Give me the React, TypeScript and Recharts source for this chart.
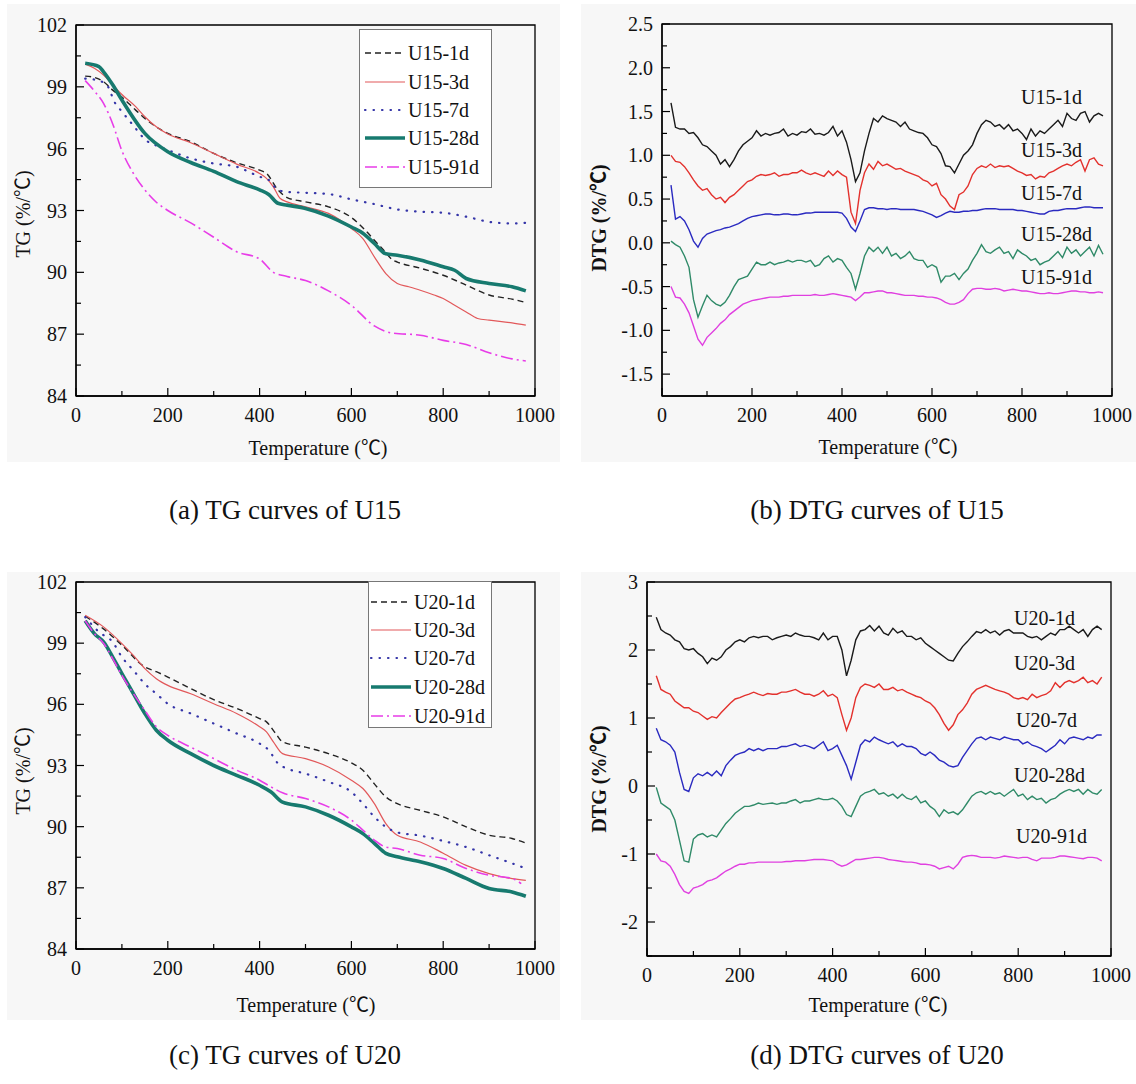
import React from 'react';
import { LineChart, Line, XAxis, YAxis, ReferenceArea } from 'recharts';

const SERIF = "'Liberation Serif','Times New Roman',Times,'Noto Sans CJK SC',serif";

// ---------- shared x categories ----------
const X_TICKS = [0, 100, 200, 300, 400, 500, 600, 700, 800, 900, 1000];
const DTG_T = [20, 30, 40, 50, 60, 70, 80, 90, 100, 110, 120, 130, 140, 150, 160, 170, 180, 190, 200, 210, 220, 230, 240, 250, 260, 270, 280, 290, 300, 310, 320, 330, 340, 350, 360, 370, 380, 390, 400, 410, 420, 430, 440, 450, 460, 470, 480, 490, 500, 510, 520, 530, 540, 550, 560, 570, 580, 590, 600, 610, 620, 630, 640, 650, 660, 670, 680, 690, 700, 710, 720, 730, 740, 750, 760, 770, 780, 790, 800, 810, 820, 830, 840, 850, 860, 870, 880, 890, 900, 910, 920, 930, 940, 950, 960, 970, 980];

// ---------- (a) TG U15 ----------
const tgA1dT = [20, 40, 60, 80, 100, 130, 150, 180, 200, 250, 300, 350, 400, 415, 440, 460, 500, 550, 600, 630, 650, 670, 690, 700, 750, 800, 850, 900, 950, 980];
const tgA1dV = [99.52, 99.46, 99.25, 98.84, 98.5, 97.87, 97.47, 96.98, 96.74, 96.34, 95.77, 95.32, 94.96, 94.8, 94.0, 93.63, 93.42, 93.18, 92.66, 92.05, 91.56, 91.08, 90.6, 90.5, 90.2, 89.86, 89.38, 88.9, 88.7, 88.54];
const tgA3dT = [20, 40, 60, 80, 100, 130, 150, 175, 200, 250, 300, 350, 400, 415, 430, 445, 460, 500, 550, 600, 625, 650, 675, 700, 725, 750, 780, 800, 825, 850, 875, 900, 950, 980];
const tgA3dV = [100.1, 99.9, 99.57, 99.1, 98.63, 98.04, 97.55, 97.06, 96.71, 96.29, 95.77, 95.25, 94.8, 94.56, 94.15, 93.58, 93.42, 93.18, 92.86, 92.13, 91.64, 90.75, 89.94, 89.46, 89.3, 89.13, 88.9, 88.73, 88.4, 88.08, 87.76, 87.68, 87.55, 87.44];
const tgA7dT = [20, 50, 70, 83, 100, 122, 153, 181, 200, 250, 300, 350, 400, 420, 440, 460, 500, 550, 600, 650, 700, 750, 800, 850, 900, 950, 980];
const tgA7dV = [99.4, 99.3, 99.0, 98.3, 97.8, 97.2, 96.4, 96.1, 95.93, 95.53, 95.28, 95.12, 94.64, 94.48, 94.0, 93.9, 93.86, 93.8, 93.54, 93.31, 93.05, 92.94, 92.89, 92.7, 92.45, 92.37, 92.4];
const tgA28dT = [20, 50, 60, 80, 100, 150, 200, 250, 300, 350, 400, 420, 440, 460, 500, 550, 600, 625, 650, 675, 700, 750, 800, 825, 850, 900, 950, 980];
const tgA28dV = [100.14, 99.98, 99.73, 99.1, 98.36, 96.74, 95.85, 95.33, 94.9, 94.4, 94.0, 93.78, 93.35, 93.26, 93.1, 92.73, 92.2, 91.9, 91.4, 90.9, 90.83, 90.6, 90.27, 90.1, 89.7, 89.46, 89.3, 89.1];
const tgA91dT = [20, 40, 60, 80, 100, 125, 150, 175, 200, 250, 300, 350, 400, 430, 460, 500, 550, 600, 650, 690, 750, 800, 850, 900, 950, 980];
const tgA91dV = [99.3, 98.8, 98.2, 97.2, 95.9, 94.8, 94.0, 93.4, 93.0, 92.4, 91.7, 91.0, 90.65, 90.0, 89.8, 89.6, 89.1, 88.4, 87.4, 87.05, 86.95, 86.7, 86.5, 86.1, 85.8, 85.7];

// ---------- (c) TG U20 ----------
const tgC1dT = [20, 60, 100, 150, 175, 200, 250, 300, 350, 400, 415, 435, 450, 500, 550, 600, 625, 650, 675, 700, 750, 800, 850, 900, 950, 980];
const tgC1dV = [100.32, 99.7, 98.9, 97.83, 97.6, 97.34, 96.77, 96.23, 95.8, 95.3, 95.14, 94.57, 94.16, 93.9, 93.58, 93.13, 92.77, 92.1, 91.46, 91.13, 90.8, 90.48, 89.99, 89.58, 89.42, 89.2];
const tgC3dT = [20, 60, 100, 125, 150, 175, 200, 250, 300, 350, 400, 415, 430, 450, 500, 550, 600, 625, 650, 675, 700, 750, 800, 850, 900, 950, 980];
const tgC3dV = [100.37, 99.8, 98.98, 98.4, 97.75, 97.26, 96.93, 96.52, 96.03, 95.55, 94.9, 94.65, 94.16, 93.58, 93.34, 92.93, 92.28, 91.87, 91.13, 90.15, 89.58, 89.25, 88.7, 88.1, 87.7, 87.45, 87.37];
const tgC7dT = [20, 50, 80, 100, 125, 150, 175, 200, 250, 300, 350, 400, 420, 440, 460, 500, 550, 600, 625, 650, 675, 700, 750, 800, 850, 900, 950, 980];
const tgC7dV = [100.28, 99.55, 99.05, 98.32, 97.67, 97.0, 96.52, 96.03, 95.55, 95.06, 94.57, 94.08, 93.75, 93.1, 92.85, 92.6, 92.2, 91.7, 91.13, 90.48, 89.99, 89.72, 89.56, 89.3, 89.0, 88.6, 88.2, 87.95];
const tgC28dT = [20, 40, 60, 80, 100, 125, 150, 175, 200, 250, 300, 350, 400, 425, 450, 500, 550, 600, 625, 650, 675, 700, 750, 800, 850, 900, 950, 980];
const tgC28dV = [100.1, 99.47, 99.06, 98.32, 97.51, 96.53, 95.55, 94.73, 94.24, 93.58, 93.0, 92.52, 92.03, 91.7, 91.2, 90.97, 90.56, 89.99, 89.66, 89.18, 88.69, 88.52, 88.28, 87.95, 87.46, 86.97, 86.8, 86.59];
const tgC91dT = [20, 40, 60, 80, 100, 125, 150, 175, 200, 250, 300, 350, 400, 425, 450, 500, 550, 600, 625, 650, 675, 700, 750, 800, 850, 900, 950, 970];
const tgC91dV = [100.1, 99.47, 99.0, 98.24, 97.42, 96.53, 95.7, 94.9, 94.48, 93.9, 93.34, 92.77, 92.28, 91.95, 91.66, 91.38, 90.97, 90.32, 89.83, 89.34, 89.0, 88.93, 88.6, 88.44, 87.95, 87.62, 87.46, 87.21];

// ---------- (b) DTG U15 ----------
const dtgB1d = [1.6, 1.32, 1.3, 1.3, 1.25, 1.26, 1.2, 1.12, 1.1, 1.05, 1.0, 0.9, 0.95, 0.87, 0.95, 1.05, 1.12, 1.16, 1.2, 1.28, 1.22, 1.25, 1.23, 1.25, 1.26, 1.3, 1.22, 1.25, 1.23, 1.27, 1.26, 1.3, 1.24, 1.25, 1.23, 1.26, 1.33, 1.22, 1.28, 1.15, 0.95, 0.7, 0.8, 1.05, 1.25, 1.42, 1.38, 1.45, 1.42, 1.4, 1.38, 1.33, 1.38, 1.3, 1.28, 1.26, 1.25, 1.2, 1.12, 1.1, 1.02, 0.88, 0.87, 0.8, 0.9, 1.0, 1.05, 1.12, 1.25, 1.35, 1.4, 1.38, 1.33, 1.35, 1.3, 1.35, 1.28, 1.3, 1.25, 1.18, 1.3, 1.22, 1.28, 1.25, 1.3, 1.35, 1.4, 1.33, 1.48, 1.42, 1.4, 1.48, 1.5, 1.38, 1.45, 1.48, 1.45];
const dtgB3d = [1.0, 0.93, 0.92, 0.87, 0.8, 0.72, 0.65, 0.6, 0.62, 0.55, 0.5, 0.52, 0.46, 0.52, 0.55, 0.6, 0.65, 0.7, 0.72, 0.76, 0.78, 0.77, 0.78, 0.8, 0.76, 0.78, 0.78, 0.8, 0.8, 0.83, 0.8, 0.78, 0.8, 0.78, 0.76, 0.82, 0.77, 0.82, 0.78, 0.75, 0.35, 0.22, 0.6, 0.8, 0.9, 0.84, 0.93, 0.88, 0.9, 0.87, 0.84, 0.85, 0.82, 0.8, 0.78, 0.76, 0.72, 0.7, 0.65, 0.68, 0.55, 0.5, 0.42, 0.38, 0.55, 0.58, 0.65, 0.78, 0.85, 0.88, 0.86, 0.9, 0.86, 0.88, 0.87, 0.88, 0.85, 0.82, 0.8, 0.77, 0.78, 0.73, 0.76, 0.75, 0.8, 0.82, 0.85, 0.88, 0.9, 0.88, 0.92, 0.95, 0.82, 0.95, 0.97, 0.9, 0.88];
const dtgB7d = [0.66, 0.27, 0.3, 0.25, 0.15, 0.02, -0.05, 0.05, 0.1, 0.12, 0.14, 0.15, 0.17, 0.18, 0.2, 0.22, 0.25, 0.28, 0.3, 0.31, 0.32, 0.33, 0.33, 0.32, 0.32, 0.33, 0.33, 0.32, 0.32, 0.33, 0.34, 0.34, 0.35, 0.35, 0.35, 0.35, 0.35, 0.35, 0.34, 0.28, 0.18, 0.13, 0.25, 0.38, 0.4, 0.4, 0.39, 0.39, 0.38, 0.39, 0.39, 0.38, 0.38, 0.38, 0.38, 0.37, 0.36, 0.34, 0.32, 0.29, 0.31, 0.34, 0.36, 0.35, 0.35, 0.36, 0.36, 0.37, 0.37, 0.38, 0.39, 0.39, 0.39, 0.38, 0.38, 0.38, 0.38, 0.37, 0.37, 0.36, 0.35, 0.34, 0.33, 0.33, 0.36, 0.37, 0.37, 0.38, 0.39, 0.39, 0.39, 0.4, 0.41, 0.41, 0.4, 0.4, 0.4];
const dtgB28d = [0.02, -0.02, -0.05, -0.15, -0.28, -0.65, -0.85, -0.72, -0.6, -0.66, -0.7, -0.72, -0.68, -0.6, -0.5, -0.42, -0.4, -0.38, -0.3, -0.22, -0.25, -0.25, -0.22, -0.25, -0.23, -0.22, -0.2, -0.22, -0.2, -0.2, -0.22, -0.2, -0.27, -0.25, -0.18, -0.15, -0.22, -0.18, -0.2, -0.28, -0.35, -0.53, -0.35, -0.15, -0.05, -0.1, -0.05, -0.12, -0.05, -0.15, -0.12, -0.18, -0.15, -0.1, -0.18, -0.2, -0.2, -0.28, -0.25, -0.28, -0.45, -0.38, -0.38, -0.35, -0.42, -0.35, -0.3, -0.2, -0.12, -0.02, -0.1, -0.12, -0.08, -0.05, -0.12, -0.1, -0.18, -0.08, -0.12, -0.15, -0.2, -0.18, -0.25, -0.22, -0.2, -0.15, -0.1, -0.17, -0.05, -0.12, -0.08, -0.15, -0.1, -0.05, -0.15, -0.03, -0.13];
const dtgB91d = [-0.5, -0.62, -0.63, -0.7, -0.8, -0.95, -1.1, -1.17, -1.08, -1.03, -0.98, -0.92, -0.88, -0.82, -0.78, -0.74, -0.7, -0.68, -0.66, -0.65, -0.64, -0.63, -0.62, -0.62, -0.62, -0.61, -0.61, -0.6, -0.6, -0.6, -0.6, -0.6, -0.59, -0.6, -0.6, -0.59, -0.58, -0.59, -0.6, -0.61, -0.62, -0.66, -0.62, -0.57, -0.57, -0.56, -0.55, -0.55, -0.57, -0.57, -0.58, -0.59, -0.6, -0.6, -0.6, -0.61, -0.61, -0.62, -0.62, -0.63, -0.65, -0.68, -0.7, -0.7, -0.68, -0.65, -0.58, -0.53, -0.52, -0.52, -0.53, -0.53, -0.52, -0.53, -0.55, -0.54, -0.53, -0.54, -0.55, -0.55, -0.56, -0.57, -0.58, -0.58, -0.57, -0.58, -0.58, -0.57, -0.56, -0.55, -0.55, -0.56, -0.56, -0.57, -0.57, -0.56, -0.57];

// ---------- (d) DTG U20 ----------
const dtgD1d = [2.48, 2.3, 2.25, 2.22, 2.15, 2.12, 2.02, 2.0, 2.02, 1.95, 1.9, 1.8, 1.88, 1.85, 1.9, 2.0, 2.05, 2.12, 2.15, 2.12, 2.18, 2.2, 2.18, 2.2, 2.2, 2.15, 2.18, 2.2, 2.22, 2.2, 2.25, 2.22, 2.2, 2.2, 2.18, 2.15, 2.25, 2.15, 2.2, 2.2, 2.0, 1.62, 1.85, 2.15, 2.28, 2.3, 2.36, 2.28, 2.35, 2.25, 2.22, 2.32, 2.25, 2.28, 2.2, 2.2, 2.15, 2.18, 2.1, 2.05, 2.0, 1.95, 1.9, 1.85, 1.84, 1.95, 2.05, 2.12, 2.2, 2.27, 2.25, 2.3, 2.25, 2.28, 2.22, 2.28, 2.3, 2.25, 2.25, 2.25, 2.2, 2.18, 2.2, 2.15, 2.2, 2.25, 2.22, 2.3, 2.3, 2.35, 2.3, 2.25, 2.3, 2.2, 2.3, 2.35, 2.3];
const dtgD3d = [1.62, 1.42, 1.38, 1.35, 1.25, 1.2, 1.15, 1.15, 1.1, 1.08, 1.03, 0.98, 1.02, 1.0, 1.08, 1.15, 1.22, 1.28, 1.3, 1.33, 1.35, 1.38, 1.35, 1.33, 1.36, 1.35, 1.35, 1.38, 1.38, 1.4, 1.42, 1.38, 1.35, 1.35, 1.32, 1.35, 1.4, 1.32, 1.35, 1.3, 1.05, 0.82, 1.0, 1.3, 1.45, 1.5, 1.48, 1.45, 1.5, 1.42, 1.42, 1.45, 1.4, 1.42, 1.38, 1.35, 1.32, 1.3, 1.25, 1.22, 1.15, 1.05, 0.92, 0.82, 0.9, 1.05, 1.12, 1.22, 1.35, 1.42, 1.45, 1.48, 1.45, 1.42, 1.4, 1.38, 1.35, 1.3, 1.28, 1.3, 1.27, 1.35, 1.3, 1.33, 1.35, 1.4, 1.52, 1.45, 1.52, 1.55, 1.52, 1.55, 1.6, 1.52, 1.55, 1.5, 1.6];
const dtgD7d = [0.85, 0.68, 0.65, 0.6, 0.5, 0.2, -0.05, -0.08, 0.12, 0.18, 0.15, 0.2, 0.15, 0.22, 0.15, 0.3, 0.38, 0.45, 0.48, 0.5, 0.55, 0.52, 0.55, 0.52, 0.55, 0.55, 0.55, 0.58, 0.58, 0.6, 0.62, 0.58, 0.6, 0.58, 0.55, 0.6, 0.65, 0.52, 0.55, 0.6, 0.45, 0.3, 0.1, 0.35, 0.6, 0.68, 0.65, 0.72, 0.68, 0.65, 0.62, 0.65, 0.58, 0.62, 0.58, 0.58, 0.55, 0.48, 0.45, 0.5, 0.45, 0.38, 0.35, 0.3, 0.28, 0.3, 0.42, 0.52, 0.62, 0.7, 0.72, 0.68, 0.72, 0.7, 0.68, 0.72, 0.7, 0.68, 0.68, 0.62, 0.65, 0.6, 0.58, 0.55, 0.5, 0.55, 0.6, 0.68, 0.62, 0.7, 0.72, 0.7, 0.68, 0.72, 0.7, 0.75, 0.75];
const dtgD28d = [-0.02, -0.25, -0.3, -0.35, -0.5, -0.8, -1.1, -1.12, -0.78, -0.72, -0.7, -0.75, -0.72, -0.75, -0.65, -0.55, -0.48, -0.4, -0.35, -0.3, -0.3, -0.28, -0.25, -0.27, -0.26, -0.25, -0.27, -0.25, -0.25, -0.22, -0.2, -0.25, -0.22, -0.22, -0.2, -0.18, -0.2, -0.2, -0.18, -0.22, -0.3, -0.42, -0.45, -0.3, -0.15, -0.1, -0.08, -0.05, -0.12, -0.1, -0.15, -0.12, -0.18, -0.12, -0.18, -0.2, -0.15, -0.25, -0.22, -0.3, -0.35, -0.45, -0.35, -0.4, -0.38, -0.42, -0.35, -0.25, -0.15, -0.1, -0.08, -0.12, -0.08, -0.12, -0.1, -0.15, -0.1, -0.05, -0.15, -0.12, -0.2, -0.15, -0.2, -0.18, -0.25, -0.2, -0.18, -0.12, -0.08, -0.05, -0.08, -0.05, -0.12, -0.05, -0.1, -0.12, -0.05];
const dtgD91d = [-1.0, -1.1, -1.12, -1.18, -1.3, -1.45, -1.55, -1.58, -1.5, -1.48, -1.45, -1.4, -1.38, -1.35, -1.3, -1.25, -1.22, -1.18, -1.15, -1.15, -1.13, -1.13, -1.12, -1.12, -1.12, -1.12, -1.12, -1.12, -1.11, -1.11, -1.1, -1.1, -1.1, -1.09, -1.08, -1.08, -1.08, -1.09, -1.1, -1.15, -1.18, -1.16, -1.12, -1.08, -1.08, -1.07, -1.06, -1.05, -1.05, -1.06, -1.08, -1.09, -1.1, -1.11, -1.12, -1.12, -1.13, -1.15, -1.15, -1.16, -1.18, -1.22, -1.2, -1.18, -1.22, -1.15, -1.05, -1.03, -1.02, -1.03, -1.05, -1.05, -1.05, -1.06, -1.05, -1.03, -1.04, -1.05, -1.06, -1.05, -1.05, -1.08, -1.1, -1.06, -1.06, -1.06, -1.05, -1.03, -1.03, -1.04, -1.05, -1.06, -1.07, -1.05, -1.05, -1.06, -1.1];

// ---------- y ticks ----------
const TG_TICKS = [84, 85.5, 87, 88.5, 90, 91.5, 93, 94.5, 96, 97.5, 99, 100.5, 102];
const DTG_B_TICKS = [-1.5, -1.25, -1, -0.75, -0.5, -0.25, 0, 0.25, 0.5, 0.75, 1, 1.25, 1.5, 1.75, 2, 2.25, 2.5];
const DTG_D_TICKS = [-2.5, -2, -1.5, -1, -0.5, 0, 0.5, 1, 1.5, 2, 2.5, 3];

type Series = { name: string; t: number[]; v: number[]; color: string; width: number; dash?: string; round?: boolean };

const pts = (t: number[], v: number[]) => t.map((x, i) => ({ t: x, v: v[i] }));

const XTick = (p: any) => {
  const { x, y, payload } = p;
  const v = payload.value as number;
  const major = v % 200 === 0;
  return (
    <g>
      <line x1={x} x2={x} y1={y} y2={y - (major ? 8 : 5)} stroke="#000" strokeWidth={1.2} />
      {major && (
        <text x={x} y={y + 26} textAnchor="middle" fontFamily={SERIF} fontSize={20} fill="#111">
          {v}
        </text>
      )}
    </g>
  );
};

const makeYTick = (base: number, step: number, fmt: (v: number) => string) => (p: any) => {
  const { x, y, payload } = p;
  const v = payload.value as number;
  const r = (v - base) / step;
  const major = Math.abs(r - Math.round(r)) < 1e-6;
  return (
    <g>
      <line x1={x} x2={x + (major ? 8 : 5)} y1={y} y2={y} stroke="#000" strokeWidth={1.2} />
      {major && (
        <text x={x - 9} y={y + 7} textAnchor="end" fontFamily={SERIF} fontSize={20} fill="#111">
          {fmt(v)}
        </text>
      )}
    </g>
  );
};

type PanelProps = {
  L: number; T: number; W: number; H: number;
  x0: number; x1: number; y0: number; y1: number;
  domain: [number, number]; yTicks: number[]; yTick: (p: any) => any;
  series: Series[]; smooth: boolean;
};

function Panel({ L, T, W, H, x0, x1, y0, y1, domain, yTicks, yTick, series, smooth }: PanelProps) {
  return (
    <div style={{ position: 'absolute', left: L, top: T }}>
      <LineChart width={W} height={H} margin={{ top: y0 - T, right: L + W - x1, bottom: 0, left: 0 }}>
        <XAxis
          dataKey="t" type="number" domain={[0, 1000]} ticks={X_TICKS} interval={0}
          height={T + H - y1} tickSize={0} tickMargin={0} tickLine={false}
          axisLine={{ stroke: '#000', strokeWidth: 1.3 }} tick={XTick} allowDataOverflow
        />
        <YAxis
          type="number" domain={domain} ticks={yTicks} interval={0} width={x0 - L}
          tickSize={0} tickMargin={0} tickLine={false}
          axisLine={{ stroke: '#000', strokeWidth: 1.3 }} tick={yTick} allowDataOverflow
        />
        <ReferenceArea x1={0} x2={1000} y1={domain[0]} y2={domain[1]} fill="none" fillOpacity={0} stroke="#000" strokeWidth={1.3} ifOverflow="visible" />
        {series.map((s) => (
          <Line
            key={s.name} name={s.name} data={pts(s.t, s.v)} dataKey="v"
            type={smooth ? 'monotone' : 'linear'} stroke={s.color} strokeWidth={s.width}
            strokeDasharray={s.dash} strokeLinecap={s.round ? 'round' : 'butt'}
            dot={false} activeDot={false} isAnimationActive={false}
          />
        ))}
      </LineChart>
    </div>
  );
}

function LegendBox({ left, top, width, height, items, rowsY, lineX0, lineX1, textX }: any) {
  return (
    <div style={{ position: 'absolute', left, top, width, height, border: '1px solid #777', boxSizing: 'border-box', background: '#fff' }}>
      <svg width={width} height={height} style={{ position: 'absolute', left: -1, top: -1 }}>
        {items.map((s: Series, i: number) => (
          <line key={s.name} x1={lineX0 - left} x2={lineX1 - left} y1={rowsY[i] - top} y2={rowsY[i] - top}
            stroke={s.color} strokeWidth={s.width} strokeDasharray={s.dash} strokeLinecap={s.round ? 'round' : 'butt'} />
        ))}
        {items.map((s: Series, i: number) => (
          <text key={s.name + 't'} x={textX - left} y={rowsY[i] - top + 7} fontFamily={SERIF} fontSize={20} fill="#111">{s.name}</text>
        ))}
      </svg>
    </div>
  );
}

const txt = (x: number, y: number, s: string, size: number, extra: any = {}) => (
  <div style={{ position: 'absolute', left: x, top: y, transform: 'translate(-50%,-50%)', whiteSpace: 'nowrap', fontFamily: SERIF, fontSize: size, color: '#111', lineHeight: 1, ...extra }}>{s}</div>
);
const ytitle = (x: number, y: number, s: string, bold: boolean) => (
  <div style={{ position: 'absolute', left: x, top: y, transform: 'translate(-50%,-50%) rotate(-90deg)', whiteSpace: 'nowrap', fontFamily: SERIF, fontSize: 20, fontWeight: bold ? 'bold' : 'normal', color: '#111', lineHeight: 1 }}>{s}</div>
);
const lbl = (x: number, y: number, s: string) => (
  <div style={{ position: 'absolute', left: x, top: y, transform: 'translateY(-50%)', whiteSpace: 'nowrap', fontFamily: SERIF, fontSize: 20, color: '#111', lineHeight: 1 }}>{s}</div>
);

export default function App() {
  const sA: Series[] = [
    { name: 'U15-1d', t: tgA1dT, v: tgA1dV, color: '#222', width: 1.4, dash: '6 4' },
    { name: 'U15-3d', t: tgA3dT, v: tgA3dV, color: '#e2585a', width: 1.2 },
    { name: 'U15-7d', t: tgA7dT, v: tgA7dV, color: '#3535a8', width: 2.2, dash: '0.5 8', round: true },
    { name: 'U15-28d', t: tgA28dT, v: tgA28dV, color: '#177a6f', width: 3.6 },
    { name: 'U15-91d', t: tgA91dT, v: tgA91dV, color: '#e83ce8', width: 1.6, dash: '12 4 2 4' },
  ];
  const sC: Series[] = [
    { name: 'U20-1d', t: tgC1dT, v: tgC1dV, color: '#222', width: 1.4, dash: '6 4' },
    { name: 'U20-3d', t: tgC3dT, v: tgC3dV, color: '#e2585a', width: 1.2 },
    { name: 'U20-7d', t: tgC7dT, v: tgC7dV, color: '#3535a8', width: 2.2, dash: '0.5 8', round: true },
    { name: 'U20-28d', t: tgC28dT, v: tgC28dV, color: '#177a6f', width: 3.6 },
    { name: 'U20-91d', t: tgC91dT, v: tgC91dV, color: '#e83ce8', width: 1.6, dash: '12 4 2 4' },
  ];
  const dc = ['#1a1a1a', '#e3312d', '#2a2ac0', '#2f8a68', '#e040e0'];
  const sB: Series[] = [
    { name: 'U15-1d', t: DTG_T, v: dtgB1d, color: dc[0], width: 1.4 },
    { name: 'U15-3d', t: DTG_T, v: dtgB3d, color: dc[1], width: 1.4 },
    { name: 'U15-7d', t: DTG_T, v: dtgB7d, color: dc[2], width: 1.4 },
    { name: 'U15-28d', t: DTG_T, v: dtgB28d, color: dc[3], width: 1.4 },
    { name: 'U15-91d', t: DTG_T, v: dtgB91d, color: dc[4], width: 1.4 },
  ];
  const sD: Series[] = [
    { name: 'U20-1d', t: DTG_T, v: dtgD1d, color: dc[0], width: 1.4 },
    { name: 'U20-3d', t: DTG_T, v: dtgD3d, color: dc[1], width: 1.4 },
    { name: 'U20-7d', t: DTG_T, v: dtgD7d, color: dc[2], width: 1.4 },
    { name: 'U20-28d', t: DTG_T, v: dtgD28d, color: dc[3], width: 1.4 },
    { name: 'U20-91d', t: DTG_T, v: dtgD91d, color: dc[4], width: 1.4 },
  ];

  const tgTick = makeYTick(84, 3, (v) => String(v));
  const bTick = makeYTick(0, 0.5, (v) => v.toFixed(1));
  const dTick = makeYTick(0, 1, (v) => String(v));

  return (
    <div style={{ position: 'absolute', left: 0, top: 0, width: 1136, height: 1084, background: '#fff', overflow: 'hidden' }}>
      <div style={{ position: 'absolute', left: 7, top: 4, width: 553, height: 458, background: '#f7f7f7' }} />
      <div style={{ position: 'absolute', left: 581, top: 4, width: 555, height: 458, background: '#f7f7f7' }} />
      <div style={{ position: 'absolute', left: 7, top: 572, width: 553, height: 448, background: '#f7f7f7' }} />
      <div style={{ position: 'absolute', left: 581, top: 572, width: 555, height: 448, background: '#f7f7f7' }} />

      <Panel L={0} T={0} W={560} H={470} x0={76} x1={535} y0={25} y1={396} domain={[84, 102]} yTicks={TG_TICKS} yTick={tgTick} series={sA} smooth />
      <Panel L={568} T={0} W={568} H={470} x0={662} x1={1112} y0={24} y1={396} domain={[-1.75, 2.5]} yTicks={DTG_B_TICKS} yTick={bTick} series={sB} smooth={false} />
      <Panel L={0} T={570} W={560} H={470} x0={76} x1={535} y0={582} y1={949} domain={[84, 102]} yTicks={TG_TICKS} yTick={tgTick} series={sC} smooth />
      <Panel L={568} T={570} W={568} H={470} x0={647} x1={1111} y0={582} y1={956} domain={[-2.5, 3]} yTicks={DTG_D_TICKS} yTick={dTick} series={sD} smooth={false} />

      <LegendBox left={359} top={29} width={133} height={159} items={sA} rowsY={[53, 82, 110, 138, 167]} lineX0={365} lineX1={405} textX={408} />
      <LegendBox left={368} top={581} width={124} height={147} items={sC} rowsY={[602, 630, 658, 687, 716]} lineX0={371} lineX1={411} textX={414} />

      {lbl(1021, 97, 'U15-1d')}
      {lbl(1021, 150, 'U15-3d')}
      {lbl(1021, 193, 'U15-7d')}
      {lbl(1021, 234, 'U15-28d')}
      {lbl(1021, 277, 'U15-91d')}

      {lbl(1014, 618, 'U20-1d')}
      {lbl(1014, 663, 'U20-3d')}
      {lbl(1016, 720, 'U20-7d')}
      {lbl(1014, 775, 'U20-28d')}
      {lbl(1016, 836, 'U20-91d')}

      {ytitle(23, 214, 'TG (%/℃)', false)}
      {ytitle(599, 218, 'DTG (%/℃)', true)}
      {ytitle(23, 771, 'TG (%/℃)', false)}
      {ytitle(599, 779, 'DTG (%/℃)', true)}

      {txt(318, 448, 'Temperature (℃)', 20)}
      {txt(888, 447, 'Temperature (℃)', 20)}
      {txt(306, 1005, 'Temperature (℃)', 20)}
      {txt(878, 1005, 'Temperature (℃)', 20)}

      {txt(285, 510, '(a) TG curves of U15', 27)}
      {txt(877, 510, '(b) DTG curves of U15', 27)}
      {txt(285, 1055, '(c) TG curves of U20', 27)}
      {txt(877, 1055, '(d) DTG curves of U20', 27)}
    </div>
  );
}
